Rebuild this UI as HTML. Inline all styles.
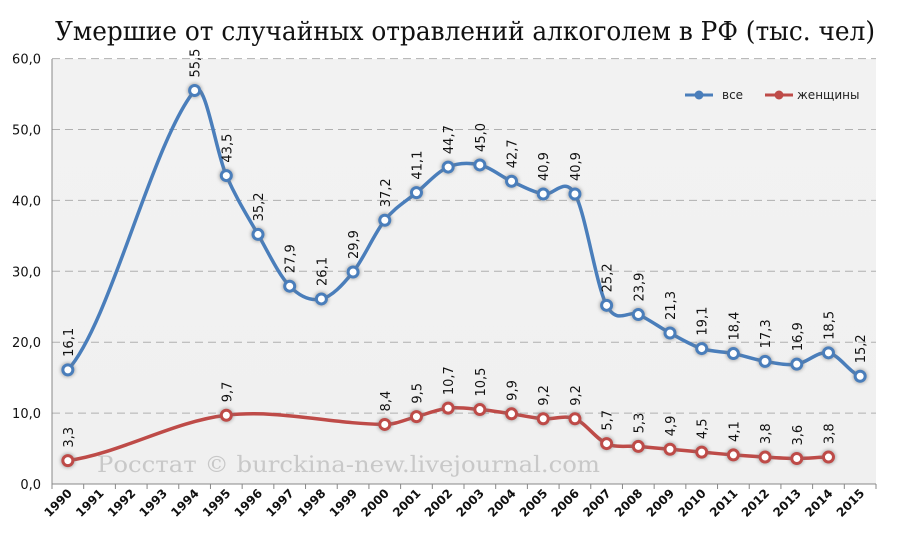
<!DOCTYPE html>
<html><head><meta charset="utf-8"><style>
body{margin:0;background:#fff;}
svg{display:block;}
</style></head><body>
<svg id="s" width="900" height="541" xmlns="http://www.w3.org/2000/svg" font-family="DejaVu Sans, Liberation Sans, sans-serif">
<defs>
<linearGradient id="bg" x1="0" y1="0" x2="0" y2="1"><stop offset="0" stop-color="#f2f2f2"/><stop offset="1" stop-color="#f0f0f0"/></linearGradient>
<filter id="gl" x="-1" y="-1" width="3" height="3"><feGaussianBlur stdDeviation="1.6"/></filter>
</defs>
<text x="55" y="40" textLength="820" lengthAdjust="spacingAndGlyphs" font-family="DejaVu Serif, Liberation Serif, serif" font-size="26" fill="#111">Умершие от случайных отравлений алкоголем в РФ (тыс. чел)</text>
<rect x="52" y="59" width="824" height="425" fill="url(#bg)"/>
<g id="grid"></g>
<text x="97" y="472" textLength="503" lengthAdjust="spacingAndGlyphs" font-family="DejaVu Serif, Liberation Serif, serif" font-size="22" fill="#c8c8c8">Росстат © burckina-new.livejournal.com</text>
<g id="series"></g>
<g font-size="12" fill="#222">
<line x1="685" y1="95" x2="713" y2="95" stroke="#4a7ebb" stroke-width="3"/><circle cx="699" cy="95" r="4.5" fill="#4a7ebb"/>
<text x="722" y="99">все</text>
<line x1="765" y1="95" x2="793" y2="95" stroke="#be4b48" stroke-width="3"/><circle cx="779" cy="95" r="4.5" fill="#be4b48"/>
<text x="797" y="99">женщины</text>
</g>
</svg>
<script>
var NS="http://www.w3.org/2000/svg";
function el(p,t,a,txt){var e=document.createElementNS(NS,t);for(var k in a)e.setAttribute(k,a[k]);if(txt!=null)e.textContent=txt;p.appendChild(e);return e;}
var L=52,R=876,Y0=484,U=7.09,W=(R-L)/26;
function X(yr){return L+W*(yr-1990+0.5);}
function Y(v){return Y0-v*U;}
var g=document.getElementById('grid');
for(var v=0;v<=60;v+=10){
 if(v>0)el(g,'line',{x1:L,x2:R,y1:Y(v),y2:Y(v),stroke:'#b0b0b0','stroke-dasharray':'8,5','stroke-width':1});
 el(g,'text',{x:41,y:Y(v)+5,'text-anchor':'end','font-size':13,fill:'#111'},v.toFixed(1).replace('.',','));
}
el(g,'line',{x1:L,x2:L,y1:59,y2:Y0,stroke:'#888'});
el(g,'line',{x1:L,x2:R,y1:Y0,y2:Y0,stroke:'#888'});
for(var i=0;i<=26;i++){var x=L+W*i;el(g,'line',{x1:x,x2:x,y1:Y0,y2:Y0+5,stroke:'#888'});}
for(var y=1990;y<=2015;y++){var x=X(y)+5,yy=494;
 el(g,'text',{x:x,y:yy,'text-anchor':'end','font-size':12,'font-weight':'bold',fill:'#111',transform:'rotate(-45 '+x+' '+yy+')'},String(y));}
var blue=[[1990,16.1],[1994,55.5],[1995,43.5],[1996,35.2],[1997,27.9],[1998,26.1],[1999,29.9],[2000,37.2],[2001,41.1],[2002,44.7],[2003,45.0],[2004,42.7],[2005,40.9],[2006,40.9],[2007,25.2],[2008,23.9],[2009,21.3],[2010,19.1],[2011,18.4],[2012,17.3],[2013,16.9],[2014,18.5],[2015,15.2]];
var red=[[1990,3.3],[1995,9.7],[2000,8.4],[2001,9.5],[2002,10.7],[2003,10.5],[2004,9.9],[2005,9.2],[2006,9.2],[2007,5.7],[2008,5.3],[2009,4.9],[2010,4.5],[2011,4.1],[2012,3.8],[2013,3.6],[2014,3.8]];
function path(d){var p=d.map(function(a){return [X(a[0]),Y(a[1])];});var n=p.length;
 var m=p.map(function(q,i){var a=p[Math.max(0,i-1)],b=p[Math.min(n-1,i+1)];var s=(b[1]-a[1])/(b[0]-a[0]);return (i==0||i==n-1)?s*0.5:s;});
 var s='M'+p[0][0]+','+p[0][1];
 for(var i=0;i<n-1;i++){var dx=(p[i+1][0]-p[i][0])/3;
  s+=' C'+(p[i][0]+dx)+','+(p[i][1]+m[i]*dx)+' '+(p[i+1][0]-dx)+','+(p[i+1][1]-m[i+1]*dx)+' '+p[i+1][0]+','+p[i+1][1];}
 return s;}
var sg=document.getElementById('series');
[[blue,'#4a7ebb'],[red,'#be4b48']].forEach(function(sr){
 el(sg,'path',{d:path(sr[0]),fill:'none',stroke:sr[1],'stroke-width':3.5});
 sr[0].forEach(function(a){var x=X(a[0]),y=Y(a[1]);
  el(sg,'circle',{cx:x,cy:y,r:7.5,fill:'#777',opacity:0.5,filter:'url(#gl)'});
  el(sg,'circle',{cx:x,cy:y,r:5,fill:'#fff',stroke:sr[1],'stroke-width':3});
  var tx=x+5,ty=y-13;
  el(sg,'text',{x:tx,y:ty,'font-size':13,fill:'#111',transform:'rotate(-90 '+tx+' '+ty+')'},a[1].toFixed(1).replace('.',','));
 });
});
</script>
</body></html>
